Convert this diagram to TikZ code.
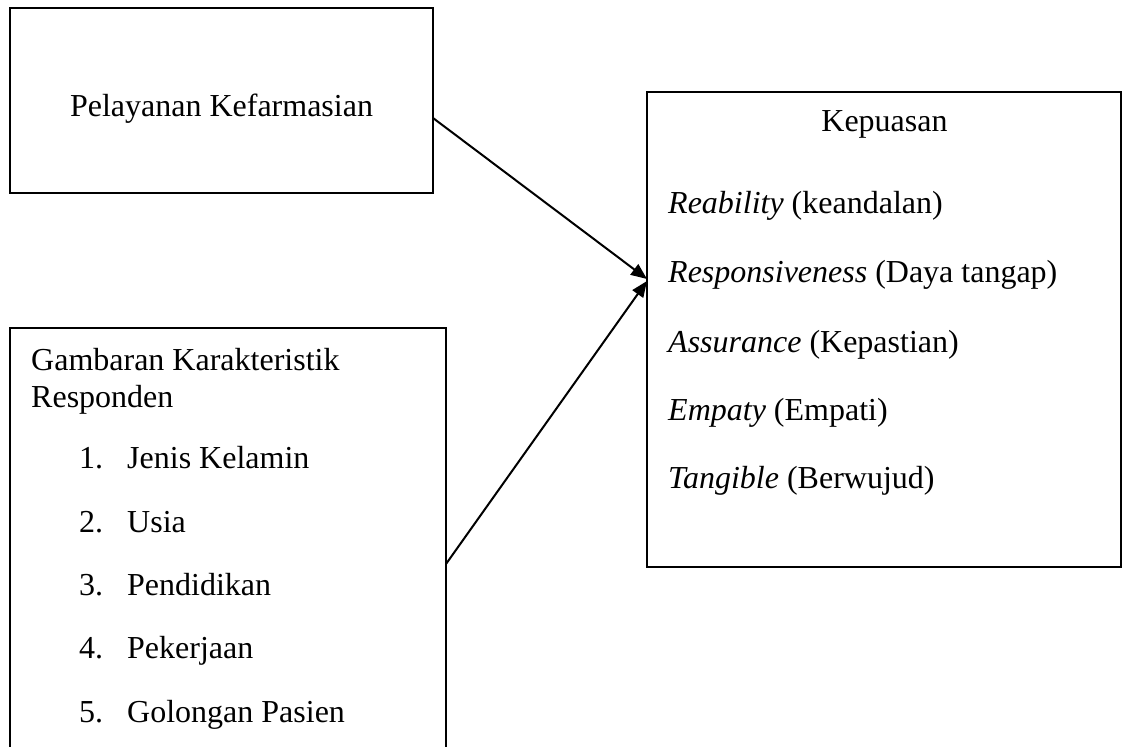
\documentclass[tikz,border=0pt]{standalone}
\usepackage{fontspec}
\setmainfont{Liberation Serif}
\usetikzlibrary{arrows.meta}
\begin{document}
\begin{tikzpicture}[x=1pt,y=-1pt,
  boxstyle/.style={draw, line width=2pt, inner sep=0pt, outer sep=0pt, anchor=north west},
  txt/.style={inner sep=0pt, anchor=base west, font=\fontsize{32}{37}\selectfont},
  arr/.style={line width=2pt, -{Triangle[length=16pt,width=13pt]}}]
\clip (0,0) rectangle (1123,746);
\fill[white] (0,0) rectangle (1123,746);
% boxes
\node[boxstyle, minimum width=423pt, minimum height=185pt] (b1) at (10,8) {};
\node[boxstyle, minimum width=436pt, minimum height=472pt] (b2) at (10,328) {};
\node[boxstyle, minimum width=474pt, minimum height=475pt] (b3) at (647,92) {};
% box 1 text
\node[txt, anchor=base] (t1) at (221.5,117) {Pelayanan Kefarmasian};
% box 2 text
\node[txt] (t2a) at (31,370) {Gambaran Karakteristik};
\node[txt] (t2b) at (31,407) {Responden};
\node[txt] (n1) at (79,468) {1.};
\node[txt] (i1) at (127,468) {Jenis Kelamin};
\node[txt] (n2) at (79,532) {2.};
\node[txt] (i2) at (127,532) {Usia};
\node[txt] (n3) at (79,595) {3.};
\node[txt] (i3) at (127,595) {Pendidikan};
\node[txt] (n4) at (79,658) {4.};
\node[txt] (i4) at (127,658) {Pekerjaan};
\node[txt] (n5) at (79,722) {5.};
\node[txt] (i5) at (127,722) {Golongan Pasien};
% box 3 text
\node[txt, anchor=base] (t3) at (884.5,132) {Kepuasan};
\node[txt] (r1) at (668,213) {\textit{Reability} (keandalan)};
\node[txt] (r2) at (668,282) {\textit{Responsiveness} (Daya tangap)};
\node[txt] (r3) at (668,352) {\textit{Assurance} (Kepastian)};
\node[txt] (r4) at (668,420) {\textit{Empaty} (Empati)};
\node[txt] (r5) at (668,488) {\textit{Tangible} (Berwujud)};
% arrows
\draw[arr] ([yshift=-17.5pt]b1.east) -- ([yshift=50.5pt]b3.west);
\draw[arr] (b2.east) -- ([yshift=48.5pt]b3.west);
\end{tikzpicture}
\end{document}
